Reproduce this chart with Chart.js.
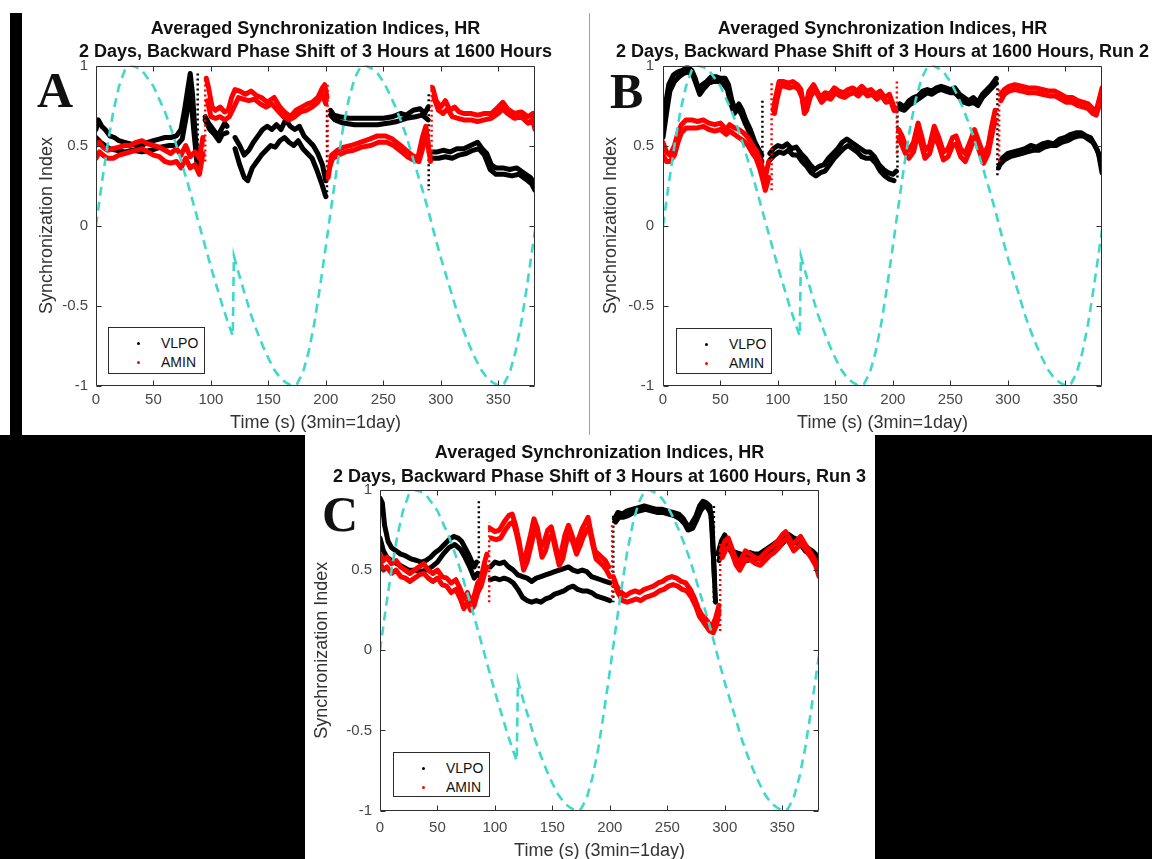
<!DOCTYPE html>
<html>
<head>
<meta charset="utf-8">
<script src="https://cdn.jsdelivr.net/npm/chart.js@4.4.1/dist/chart.umd.min.js"></script>
<style>
  html, body { margin: 0; padding: 0; }
  body { width: 1152px; height: 859px; background: #000; position: relative; overflow: hidden; font-family: 'Liberation Sans', Arial, sans-serif; }
  .sheet { position: absolute; }
  canvas { position: absolute; }
  .tag { position: absolute; font: bold 50px 'Liberation Serif', 'Times New Roman', serif; line-height: 1; color: #111; }
  .legend { position: absolute; background: #fff; border: 1px solid #2b2b2b; box-sizing: border-box; font-size: 14px; color: #111; }
  .legend .row { position: absolute; left: 0; right: 0; height: 18px; line-height: 18px; }
  .legend .dot { position: absolute; width: 3px; height: 3px; border-radius: 50%; top: 8px; }
  .legend .lbl { position: absolute; top: 0; }
</style>
</head>
<body>
<div class="sheet" style="left:0;top:0;width:1152px;height:435px;background:#fff"></div>
<div class="sheet" style="left:10px;top:13px;width:12px;height:422px;background:#000"></div>
<div class="sheet" style="left:589px;top:13px;width:1px;height:424px;background:#a0a0a0"></div>
<div class="sheet" style="left:305px;top:435px;width:570px;height:424px;background:#fff"></div>
<canvas id="chartA" width="568" height="435" style="left:22px;top:0"></canvas>
<canvas id="chartB" width="562" height="435" style="left:590px;top:0"></canvas>
<canvas id="chartC" width="570" height="435" style="left:305px;top:430px"></canvas>
<script>
// x = time (s), y = synchronization index; null marks a break between recordings
const seriesNames = ['VLPO', 'AMIN'];
const titleLine1 = 'Averaged Synchronization Indices, HR';
const titleLine2 = [
  '2 Days, Backward Phase Shift of 3 Hours at 1600 Hours',
  '2 Days, Backward Phase Shift of 3 Hours at 1600 Hours, Run 2',
  '2 Days, Backward Phase Shift of 3 Hours at 1600 Hours, Run 3'
];
const xTicks = [0, 50, 100, 150, 200, 250, 300, 350];
const yTicks = [-1, -0.5, 0, 0.5, 1];

// light cycle (cyan dashed), same in all three runs
const shiftT = [0, 5, 10, 15, 20, 25, 30, 35, 40, 45, 50, 55, 60, 65, 70, 75, 80, 85, 90, 95, 100, 105, 110, 115, 119,
  120, 125, 130, 135, 140, 145, 150, 155, 160, 165, 170, 172.5, 175, 180, 185, 190, 195, 200, 205, 210, 215, 220, 225,
  230, 232.5, 235, 240, 245, 250, 255, 260, 265, 270, 275, 280, 285, 290, 295, 300, 305, 310, 315, 320, 325, 330, 335,
  340, 345, 350, 352.5, 355, 360, 365, 370, 375, 380, 382];
const shiftV = [0, 0.26, 0.5, 0.71, 0.87, 0.97, 1, 0.99, 0.97, 0.92, 0.87, 0.79, 0.71, 0.61, 0.5, 0.38, 0.26, 0.13, 0, -0.13,
  -0.26, -0.38, -0.5, -0.61, -0.69, -0.19, -0.32, -0.44, -0.56, -0.66, -0.75, -0.83, -0.9, -0.95, -0.98, -1, -1, -0.99,
  -0.92, -0.79, -0.61, -0.38, -0.13, 0.13, 0.38, 0.61, 0.79, 0.92, 0.99, 1, 1, 0.98, 0.95, 0.9, 0.83, 0.75, 0.66, 0.56,
  0.44, 0.32, 0.2, 0.07, -0.07, -0.2, -0.32, -0.44, -0.56, -0.66, -0.75, -0.83, -0.9, -0.95, -0.98, -1, -1, -0.99, -0.92,
  -0.79, -0.61, -0.38, -0.13, -0.03];

// Run A
const aVlpo1 = [[0,0.6],[2,0.66],[5,0.62],[8,0.6],[12,0.56],[16,0.55],[20,0.53],[25,0.52],[30,0.51],[35,0.5],[40,0.5],[45,0.52],[50,0.53],[55,0.54],[60,0.55],[65,0.55],[70,0.56],[74,0.6],[77,0.72],[80,0.86],[82,0.95],[84,0.82],[86,0.6],[88,0.42],[91,null],
  [95,0.68],[98,0.64],[102,0.6],[106,0.56],[109,0.6],[112,0.64],[114,0.62],[118,null],
  [121,0.55],[125,0.5],[129,0.44],[133,0.47],[137,0.52],[141,0.56],[145,0.6],[149,0.62],[153,0.6],[157,0.63],[161,0.6],[165,0.66],[169,0.62],[173,0.6],[177,0.62],[181,0.56],[185,0.53],[189,0.5],[193,0.45],[197,0.38],[200,0.28],[202,null],
  [204,0.72],[207,0.69],[212,0.68],[220,0.67],[230,0.67],[240,0.67],[250,0.67],[258,0.68],[265,0.7],[270,0.69],[276,0.72],[282,0.73],[286,0.7],[289,0.74],[291,null],
  [293,0.46],[297,0.46],[302,0.47],[308,0.46],[314,0.48],[320,0.48],[326,0.5],[332,0.52],[336,0.48],[340,0.45],[344,0.38],[348,0.36],[354,0.36],[360,0.35],[366,0.36],[372,0.33],[378,0.3],[382,0.26]];
const aVlpo2 = [[0,0.55],[4,0.52],[8,0.5],[12,0.48],[18,0.47],[25,0.46],[32,0.47],[40,0.46],[48,0.47],[56,0.49],[64,0.5],[70,0.5],[75,0.54],[79,0.7],[82,0.85],[85,0.6],[88,0.38],[91,null],
  [95,0.66],[99,0.6],[103,0.57],[107,0.53],[110,0.57],[114,0.58],[118,null],
  [121,0.48],[125,0.38],[129,0.3],[132,0.28],[136,0.36],[140,0.4],[144,0.44],[148,0.47],[152,0.5],[156,0.49],[160,0.53],[164,0.55],[168,0.52],[172,0.5],[176,0.53],[180,0.48],[184,0.45],[188,0.42],[192,0.35],[196,0.27],[200,0.18],[202,null],
  [204,0.69],[208,0.66],[215,0.64],[225,0.63],[235,0.63],[245,0.63],[255,0.64],[262,0.65],[270,0.67],[278,0.68],[284,0.69],[289,0.66],[291,null],
  [293,0.42],[298,0.42],[304,0.43],[310,0.42],[316,0.44],[322,0.45],[328,0.47],[333,0.48],[338,0.44],[343,0.35],[348,0.32],[355,0.32],[362,0.31],[368,0.32],[374,0.29],[379,0.26],[382,0.22]];
const aAmin1 = [[0,0.5],[3,0.52],[6,0.49],[10,0.47],[15,0.48],[20,0.49],[25,0.5],[30,0.5],[35,0.52],[40,0.53],[45,0.51],[50,0.5],[55,0.49],[60,0.47],[65,0.45],[70,0.48],[74,0.44],[78,0.5],[82,0.43],[86,0.46],[90,0.42],[93,0.55],[94.5,null],
  [96,0.92],[98,0.86],[101,0.74],[104,0.72],[108,0.74],[112,0.71],[115,0.72],[118,0.8],[121,0.85],[125,0.84],[130,0.82],[135,0.84],[140,0.81],[144,0.8],[149,0.77],[155,0.8],[160,0.74],[164,0.71],[169,0.68],[174,0.72],[179,0.74],[184,0.76],[188,0.77],[193,0.8],[197,0.86],[199,0.88],[201,0.8],[201.5,null],
  [202,0.3],[205,0.44],[210,0.47],[216,0.49],[222,0.5],[230,0.52],[238,0.54],[245,0.56],[252,0.56],[258,0.54],[265,0.5],[270,0.47],[275,0.44],[280,0.42],[284,0.55],[287,0.62],[290,0.45],[291.5,null],
  [293,0.86],[296,0.78],[300,0.74],[304,0.78],[308,0.72],[312,0.74],[316,0.71],[320,0.7],[326,0.7],[332,0.69],[338,0.7],[344,0.7],[350,0.74],[354,0.77],[358,0.73],[364,0.7],[370,0.71],[376,0.68],[380,0.7],[382,0.64]];
const aAmin2 = [[0,0.42],[3,0.46],[6,0.44],[10,0.42],[15,0.42],[20,0.44],[25,0.45],[30,0.46],[35,0.47],[40,0.48],[45,0.46],[50,0.44],[55,0.43],[60,0.4],[65,0.39],[70,0.4],[74,0.36],[78,0.42],[82,0.36],[86,0.38],[90,0.32],[93,0.45],[95,null],
  [97,0.78],[100,0.68],[104,0.67],[108,0.68],[112,0.66],[116,0.68],[120,0.74],[124,0.8],[128,0.79],[133,0.78],[138,0.79],[143,0.76],[148,0.74],[153,0.76],[158,0.72],[163,0.68],[168,0.66],[173,0.68],[178,0.71],[183,0.72],[188,0.74],[193,0.77],[197,0.82],[200,0.76],[201.5,null],
  [203,0.36],[206,0.42],[211,0.44],[217,0.46],[224,0.47],[231,0.49],[239,0.5],[246,0.52],[253,0.52],[259,0.5],[266,0.46],[271,0.43],[276,0.41],[281,0.4],[285,0.5],[288,0.56],[291,0.4],[292.5,null],
  [294,0.8],[298,0.72],[302,0.7],[306,0.73],[310,0.68],[315,0.67],[320,0.66],[326,0.66],[332,0.65],[338,0.66],[344,0.67],[350,0.7],[354,0.73],[358,0.7],[364,0.67],[370,0.68],[376,0.64],[380,0.66],[382,0.6]];
// sparse dot columns where a recording jumps
const aVlpoJumps = [[88.5,0.95],[88.5,0.35],[89,null],[201,0.72],[201,0.18],[202,null],[289.5,0.82],[289.5,0.22]];
const aAminJumps = [[95,0.4],[95,0.93],[96,null],[201.5,0.88],[201.5,0.28],[202,null],[292,0.88],[292,0.38]];

// Run B
const bVlpo1 = [[0,0.62],[2,0.75],[5,0.88],[9,0.94],[13,0.96],[17,0.97],[21,0.99],[25,0.97],[28,0.92],[31,0.85],[34,0.88],[38,0.9],[42,0.93],[46,0.93],[50,0.92],[54,0.92],[57,0.88],[60,0.78],[63,0.72],[66,0.76],[69,0.72],[72,0.66],[76,0.6],[80,0.52],[83,0.48],[86,0.44],[89,null],
  [93,0.45],[96,0.48],[100,0.5],[104,0.49],[108,0.51],[112,0.48],[116,0.49],[120,0.45],[124,0.42],[128,0.38],[132,0.35],[136,0.37],[140,0.38],[144,0.42],[148,0.45],[152,0.48],[156,0.52],[160,0.54],[164,0.52],[168,0.5],[172,0.48],[176,0.46],[180,0.46],[184,0.43],[188,0.38],[192,0.35],[196,0.33],[200,0.32],[203,0.34],[204.5,null],
  [206,0.76],[210,0.74],[214,0.78],[218,0.8],[222,0.81],[226,0.84],[230,0.85],[234,0.84],[238,0.86],[242,0.87],[246,0.86],[250,0.85],[254,0.86],[258,0.82],[262,0.8],[266,0.78],[270,0.8],[274,0.77],[278,0.82],[282,0.85],[286,0.88],[290,0.92],[291,null],
  [292,0.36],[295,0.42],[300,0.45],[305,0.46],[310,0.47],[315,0.48],[320,0.5],[325,0.49],[330,0.51],[335,0.52],[340,0.51],[345,0.54],[350,0.55],[355,0.57],[360,0.58],[364,0.58],[368,0.56],[372,0.55],[376,0.5],[379,0.45],[382,0.33]];
const bVlpo2 = [[0,0.55],[3,0.7],[6,0.84],[10,0.9],[14,0.93],[18,0.95],[22,0.96],[26,0.94],[29,0.88],[32,0.82],[36,0.86],[40,0.89],[44,0.9],[48,0.9],[52,0.89],[56,0.85],[59,0.76],[62,0.7],[65,0.73],[68,0.7],[72,0.63],[76,0.57],[80,0.49],[83,0.45],[86,0.4],[89,null],
  [93,0.41],[97,0.44],[101,0.46],[105,0.45],[109,0.47],[113,0.44],[117,0.44],[121,0.4],[125,0.37],[129,0.33],[133,0.31],[137,0.33],[141,0.34],[145,0.38],[149,0.42],[153,0.45],[157,0.48],[161,0.5],[165,0.48],[169,0.46],[173,0.43],[177,0.42],[181,0.42],[185,0.39],[189,0.34],[193,0.31],[197,0.29],[201,0.28],[204,null],
  [206,0.73],[210,0.72],[214,0.75],[218,0.77],[222,0.79],[226,0.81],[230,0.83],[234,0.82],[238,0.84],[242,0.85],[246,0.84],[250,0.83],[254,0.83],[258,0.8],[262,0.77],[266,0.76],[270,0.77],[274,0.75],[278,0.8],[282,0.83],[286,0.86],[290,0.89],[291.5,null],
  [293,0.38],[297,0.41],[302,0.43],[307,0.44],[312,0.45],[317,0.46],[322,0.47],[327,0.47],[332,0.49],[337,0.5],[342,0.5],[347,0.52],[352,0.53],[357,0.55],[362,0.56],[366,0.56],[370,0.54],[374,0.52],[378,0.47],[382,0.38]];
const bAmin1 = [[0,0.52],[3,0.46],[6,0.44],[10,0.5],[13,0.58],[16,0.63],[20,0.66],[25,0.66],[30,0.65],[35,0.66],[40,0.64],[45,0.63],[50,0.64],[55,0.6],[58,0.63],[62,0.61],[66,0.6],[70,0.58],[74,0.55],[78,0.5],[81,0.47],[84,0.42],[87,0.35],[89,0.3],[92,0.4],[94,null],
  [96,0.72],[98,0.8],[101,0.9],[105,0.9],[109,0.89],[113,0.9],[117,0.88],[120,0.85],[122,0.76],[124,0.74],[127,0.84],[131,0.88],[134,0.84],[137,0.8],[141,0.83],[145,0.82],[149,0.86],[153,0.84],[157,0.83],[161,0.85],[165,0.86],[169,0.84],[173,0.87],[177,0.84],[181,0.85],[185,0.82],[189,0.84],[193,0.8],[197,0.82],[200,0.76],[202,0.72],[203.5,null],
  [205,0.6],[208,0.56],[211,0.5],[214,0.47],[218,0.52],[222,0.64],[225,0.56],[228,0.47],[232,0.5],[236,0.62],[240,0.55],[244,0.46],[248,0.48],[252,0.55],[255,0.56],[259,0.48],[263,0.45],[267,0.52],[271,0.6],[275,0.52],[279,0.44],[283,0.5],[286,0.62],[289,0.72],[291.5,null],
  [294,0.82],[297,0.85],[301,0.87],[306,0.88],[312,0.87],[318,0.86],[324,0.86],[330,0.85],[336,0.84],[341,0.84],[346,0.82],[351,0.8],[356,0.8],[361,0.78],[366,0.77],[370,0.76],[374,0.73],[377,0.72],[380,0.8],[382,0.86]];
const bAmin2 = [[0,0.44],[3,0.4],[6,0.4],[10,0.44],[13,0.52],[16,0.58],[20,0.61],[25,0.61],[30,0.61],[35,0.62],[40,0.6],[45,0.59],[50,0.6],[55,0.57],[58,0.59],[62,0.57],[66,0.55],[70,0.53],[74,0.5],[78,0.45],[81,0.42],[84,0.36],[87,0.28],[89,0.22],[92,0.3],[94.5,null],
  [97,0.7],[99,0.78],[102,0.87],[106,0.87],[110,0.86],[114,0.87],[118,0.85],[121,0.8],[123,0.7],[125,0.72],[128,0.8],[132,0.85],[135,0.81],[138,0.77],[142,0.8],[146,0.79],[150,0.83],[154,0.81],[158,0.8],[162,0.82],[166,0.83],[170,0.81],[174,0.84],[178,0.81],[182,0.82],[186,0.79],[190,0.81],[194,0.77],[198,0.78],[201,0.72],[203,null],
  [205,0.55],[208,0.5],[211,0.45],[214,0.42],[218,0.46],[222,0.58],[225,0.5],[228,0.42],[232,0.45],[236,0.56],[240,0.5],[244,0.41],[248,0.43],[252,0.5],[255,0.51],[259,0.43],[263,0.4],[267,0.47],[271,0.55],[275,0.47],[279,0.39],[283,0.45],[286,0.56],[289,0.66],[291.5,null],
  [294,0.78],[297,0.82],[301,0.84],[306,0.85],[312,0.84],[318,0.83],[324,0.83],[330,0.82],[336,0.81],[341,0.81],[346,0.79],[351,0.77],[356,0.77],[361,0.75],[366,0.74],[370,0.73],[374,0.7],[377,0.69],[380,0.76],[382,0.82]];
const bVlpoJumps = [[86.5,0.78],[86.5,0.25],[87,null],[204,0.75],[204,0.3],[205,null],[291,0.92],[291,0.3]];
const bAminJumps = [[94.5,0.22],[94.5,0.9],[95,null],[203.5,0.9],[203.5,0.45],[204,null],[292.5,0.85],[292.5,0.4]];

// Run C
const cVlpo1 = [[0,0.95],[2,0.92],[4,0.78],[7,0.68],[10,0.64],[14,0.62],[18,0.6],[22,0.59],[27,0.57],[32,0.56],[36,0.55],[40,0.56],[44,0.58],[48,0.61],[52,0.63],[56,0.66],[60,0.69],[64,0.71],[68,0.7],[71,0.68],[74,0.64],[77,0.6],[80,0.55],[82,0.52],[84,0.55],[90,null],
  [96,0.52],[100,0.55],[104,0.54],[108,0.55],[112,0.52],[116,0.5],[120,0.47],[124,0.46],[128,0.45],[132,0.43],[136,0.45],[140,0.46],[144,0.47],[148,0.48],[152,0.49],[156,0.5],[160,0.51],[164,0.52],[168,0.5],[172,0.49],[176,0.5],[180,0.49],[184,0.46],[188,0.45],[192,0.44],[196,0.43],[200,0.42],[202,null],
  [204,0.82],[207,0.86],[211,0.85],[215,0.87],[220,0.88],[225,0.89],[230,0.9],[235,0.89],[240,0.88],[245,0.88],[250,0.87],[255,0.86],[260,0.85],[264,0.82],[268,0.77],[271,0.79],[275,0.84],[278,0.9],[281,0.93],[284,0.92],[287,0.9],[289,0.78],[291,0.45],[292.5,null],
  [294,0.6],[297,0.68],[300,0.72],[303,0.67],[306,0.62],[310,0.61],[314,0.6],[318,0.58],[322,0.61],[326,0.6],[330,0.6],[334,0.62],[338,0.64],[342,0.66],[346,0.68],[350,0.7],[353,0.73],[356,0.72],[360,0.7],[364,0.69],[368,0.66],[372,0.64],[376,0.62],[379,0.6],[382,0.55]];
const cVlpo2 = [[0,0.7],[3,0.62],[6,0.58],[10,0.56],[15,0.54],[20,0.52],[25,0.5],[30,0.5],[35,0.49],[40,0.5],[45,0.52],[50,0.55],[55,0.6],[60,0.64],[65,0.66],[70,0.63],[74,0.58],[78,0.52],[82,0.45],[85,0.48],[90,null],
  [96,0.44],[100,0.45],[104,0.44],[108,0.45],[112,0.44],[116,0.42],[120,0.38],[124,0.33],[128,0.31],[132,0.3],[136,0.31],[140,0.3],[144,0.32],[148,0.33],[152,0.35],[156,0.36],[160,0.37],[164,0.39],[168,0.4],[172,0.38],[176,0.37],[180,0.37],[184,0.36],[188,0.34],[192,0.33],[196,0.32],[200,0.31],[202.5,null],
  [205,0.8],[208,0.83],[212,0.83],[216,0.84],[221,0.86],[226,0.87],[231,0.88],[236,0.87],[241,0.86],[246,0.86],[251,0.85],[256,0.84],[261,0.82],[265,0.79],[268,0.75],[272,0.76],[276,0.82],[279,0.87],[282,0.9],[285,0.89],[288,0.85],[290,0.6],[292,0.3],[293.5,null],
  [295,0.56],[298,0.64],[301,0.68],[304,0.63],[308,0.59],[312,0.58],[316,0.57],[320,0.56],[324,0.58],[328,0.57],[332,0.57],[336,0.59],[340,0.61],[344,0.63],[348,0.65],[352,0.68],[355,0.7],[358,0.69],[362,0.67],[366,0.66],[370,0.62],[374,0.6],[378,0.58],[382,0.52]];
const cAmin1 = [[0,0.6],[3,0.56],[6,0.58],[10,0.54],[14,0.56],[18,0.52],[22,0.5],[26,0.48],[30,0.5],[34,0.52],[38,0.54],[42,0.5],[46,0.48],[50,0.5],[54,0.46],[58,0.45],[62,0.42],[66,0.44],[70,0.38],[73,0.32],[76,0.36],[79,0.3],[82,0.34],[85,0.42],[88,0.45],[91,0.55],[93,0.6],[94.5,null],
  [96,0.76],[100,0.74],[104,0.75],[108,0.8],[112,0.84],[115,0.85],[118,0.78],[121,0.68],[124,0.55],[127,0.6],[131,0.72],[134,0.82],[137,0.76],[140,0.64],[143,0.68],[146,0.75],[149,0.77],[152,0.68],[155,0.58],[158,0.62],[161,0.72],[164,0.78],[167,0.72],[170,0.65],[173,0.7],[176,0.76],[179,0.8],[181,0.83],[184,0.72],[187,0.62],[190,0.6],[193,0.58],[196,0.56],[199,0.52],[201,null],
  [203,0.46],[206,0.4],[210,0.36],[214,0.34],[218,0.36],[222,0.37],[226,0.36],[230,0.38],[234,0.39],[238,0.4],[242,0.42],[246,0.43],[250,0.45],[254,0.46],[258,0.45],[262,0.43],[266,0.42],[270,0.38],[274,0.32],[277,0.26],[280,0.22],[283,0.2],[286,0.17],[289,0.15],[292,0.2],[295,0.28],[296,null],
  [297,0.62],[300,0.68],[303,0.7],[306,0.64],[309,0.58],[312,0.54],[315,0.58],[318,0.62],[322,0.6],[326,0.58],[330,0.57],[334,0.6],[338,0.63],[342,0.65],[346,0.68],[350,0.72],[353,0.74],[356,0.7],[359,0.66],[362,0.68],[366,0.71],[370,0.66],[374,0.62],[378,0.57],[382,0.5]];
const cAmin2 = [[0,0.55],[3,0.5],[6,0.52],[10,0.48],[14,0.5],[18,0.46],[22,0.45],[26,0.43],[30,0.45],[34,0.47],[38,0.48],[42,0.45],[46,0.43],[50,0.45],[54,0.41],[58,0.4],[62,0.36],[66,0.38],[70,0.32],[73,0.26],[76,0.3],[79,0.25],[82,0.28],[85,0.36],[88,0.4],[91,0.48],[93,0.52],[95,null],
  [97,0.7],[101,0.69],[105,0.7],[109,0.75],[113,0.79],[116,0.8],[119,0.72],[122,0.62],[125,0.5],[128,0.55],[132,0.67],[135,0.77],[138,0.7],[141,0.58],[144,0.62],[147,0.7],[150,0.72],[153,0.62],[156,0.53],[159,0.57],[162,0.67],[165,0.73],[168,0.67],[171,0.6],[174,0.65],[177,0.71],[180,0.75],[182,0.77],[185,0.66],[188,0.57],[191,0.55],[194,0.53],[197,0.5],[200,0.46],[202,null],
  [204,0.42],[207,0.36],[211,0.31],[215,0.3],[219,0.31],[223,0.32],[227,0.31],[231,0.33],[235,0.34],[239,0.35],[243,0.37],[247,0.38],[251,0.4],[255,0.41],[259,0.4],[263,0.38],[267,0.37],[271,0.33],[275,0.27],[278,0.21],[281,0.18],[284,0.15],[287,0.12],[290,0.11],[293,0.16],[295,0.24],[296.5,null],
  [298,0.58],[301,0.63],[304,0.65],[307,0.59],[310,0.53],[313,0.5],[316,0.54],[319,0.57],[323,0.56],[327,0.54],[331,0.53],[335,0.56],[339,0.59],[343,0.61],[347,0.64],[351,0.68],[354,0.7],[357,0.66],[360,0.62],[363,0.64],[367,0.67],[371,0.62],[375,0.58],[379,0.53],[382,0.46]];
const cVlpoJumps = [[86,0.93],[86,0.35],[87,null],[203,0.84],[203,0.3],[204,null],[290.5,0.9],[290.5,0.3]];
const cAminJumps = [[95,0.3],[95,0.8],[96,null],[202,0.78],[202,0.32],[203,null],[296,0.12],[296,0.68]];

const colors = { vlpo: '#000000', amin: '#ff0000', shift: '#3fd8cb' };

// layout of each panel, in canvas pixels
const panels = [
  { id: 'chartA', line2: titleLine2[0], vlpo: [aVlpo1, aVlpo2], amin: [aAmin1, aAmin2], jumps: [aVlpoJumps, aAminJumps],
    yWidth: 74, padTop: 65.5, padRight: 55, padBottom: 0, xHeight: 49.5, titleBase: [33.5, 56.5],
    yTitlePad: 14.7, yTickPad: 8, xTickPad: 5.5, xTitlePad: 1.5,
    legend: { left: 108, top: 327, width: 97, height: 47 }, tag: { text: 'A', left: 37, top: 65 } },
  { id: 'chartB', line2: titleLine2[1], vlpo: [bVlpo1, bVlpo2], amin: [bAmin1, bAmin2], jumps: [bVlpoJumps, bAminJumps],
    yWidth: 73, padTop: 65.5, padRight: 50, padBottom: 0, xHeight: 49.5, titleBase: [33.5, 56.5],
    yTitlePad: 10.2, yTickPad: 9, xTickPad: 5.5, xTitlePad: 1.5,
    legend: { left: 676, top: 328, width: 96, height: 46 }, tag: { text: 'B', left: 610, top: 66 } },
  { id: 'chartC', line2: titleLine2[2], vlpo: [cVlpo1, cVlpo2], amin: [cAmin1, cAmin2], jumps: [cVlpoJumps, cAminJumps],
    yWidth: 75, padTop: 60, padRight: 56, padBottom: 2.5, xHeight: 52, titleBase: [28.3, 51.7],
    yTitlePad: 6.2, yTickPad: 8, xTickPad: 8.5, xTitlePad: 0.7,
    legend: { left: 393, top: 752, width: 97, height: 45 }, tag: { text: 'C', left: 322, top: 489 } }
];

function toPoints(pairs) {
  return pairs.map(([x, y]) => ({ x, y }));
}

// MATLAB style box with inward ticks on all four sides
const frameTicks = {
  id: 'frameTicks',
  afterDatasetsDraw(chart) {
    const { ctx, chartArea: a, scales: { x, y } } = chart;
    const l = Math.round(a.left) + 0.5, r = Math.round(a.right) - 0.5;
    const t = Math.round(a.top) + 0.5, b = Math.round(a.bottom) - 0.5;
    ctx.save();
    ctx.strokeStyle = '#2e2e2e';
    ctx.lineWidth = 1;
    ctx.beginPath();
    ctx.rect(l, t, r - l, b - t);
    x.ticks.forEach(tk => {
      const px = Math.round(x.getPixelForValue(tk.value)) + 0.5;
      ctx.moveTo(px, b); ctx.lineTo(px, b - 5);
      ctx.moveTo(px, t); ctx.lineTo(px, t + 5);
    });
    y.ticks.forEach(tk => {
      const py = Math.round(y.getPixelForValue(tk.value)) + 0.5;
      ctx.moveTo(l, py); ctx.lineTo(l + 5, py);
      ctx.moveTo(r, py); ctx.lineTo(r - 5, py);
    });
    ctx.stroke();
    ctx.restore();
  }
};

// two-line title centred over the plot box, allowed to run wider than it
const boxTitle = {
  id: 'boxTitle',
  afterDraw(chart, args, opts) {
    const { ctx, chartArea: a } = chart;
    ctx.save();
    ctx.font = "bold 18px 'Liberation Sans', Arial, sans-serif";
    ctx.fillStyle = '#111';
    ctx.textAlign = 'center';
    ctx.textBaseline = 'alphabetic';
    const cx = (a.left + a.right) / 2;
    opts.lines.forEach((line, i) => ctx.fillText(line, cx, opts.baselines[i]));
    ctx.restore();
  }
};

function traceSet(list, name, color, order) {
  return list.map(pairs => ({
    label: name,
    data: toPoints(pairs),
    borderColor: color,
    backgroundColor: color,
    borderWidth: 5,
    borderJoinStyle: 'round',
    borderCapStyle: 'round',
    pointRadius: 0,
    spanGaps: false,
    order
  }));
}

function jumpSet(pairs, name, color, order) {
  return {
    label: name,
    data: toPoints(pairs),
    borderColor: color,
    borderWidth: 2.5,
    borderDash: [2, 3],
    pointRadius: 0,
    spanGaps: false,
    order
  };
}

function buildChart(p) {
  const shift = {
    label: 'light',
    data: shiftT.map((t, i) => ({ x: t, y: shiftV[i] })),
    borderColor: colors.shift,
    borderWidth: 2.6,
    borderDash: [9, 6],
    pointRadius: 0,
    order: 0
  };
  const datasets = [shift]
    .concat(traceSet(p.amin, seriesNames[1], colors.amin, 1))
    .concat([jumpSet(p.jumps[1], seriesNames[1], colors.amin, 1)])
    .concat(traceSet(p.vlpo, seriesNames[0], colors.vlpo, 2))
    .concat([jumpSet(p.jumps[0], seriesNames[0], colors.vlpo, 2)]);

  new Chart(document.getElementById(p.id), {
    type: 'line',
    data: { datasets },
    options: {
      responsive: false,
      animation: false,
      layout: { padding: { left: 0, right: p.padRight, top: p.padTop, bottom: p.padBottom } },
      plugins: {
        legend: { display: false },
        tooltip: { enabled: false },
        title: { display: false },
        boxTitle: { lines: [titleLine1, p.line2], baselines: p.titleBase }
      },
      scales: {
        x: {
          type: 'linear',
          min: 0,
          max: 382,
          afterFit: s => { s.height = p.xHeight; },
          afterBuildTicks: s => { s.ticks = xTicks.map(v => ({ value: v })); },
          grid: { display: false, drawTicks: false },
          border: { display: false },
          ticks: { color: '#474747', font: { size: 15 }, padding: p.xTickPad, maxRotation: 0, callback: v => String(v) },
          title: { display: true, text: 'Time (s) (3min=1day)', color: '#333', font: { size: 18 }, padding: { top: 0, bottom: p.xTitlePad } }
        },
        y: {
          min: -1,
          max: 1,
          afterFit: s => { s.width = p.yWidth; },
          afterBuildTicks: s => { s.ticks = yTicks.map(v => ({ value: v })); },
          grid: { display: false, drawTicks: false },
          border: { display: false },
          ticks: { color: '#474747', font: { size: 15 }, padding: p.yTickPad, callback: v => String(v) },
          title: { display: true, text: 'Synchronization Index', color: '#333', font: { size: 18 }, padding: { top: p.yTitlePad, bottom: 0 } }
        }
      }
    },
    plugins: [frameTicks, boxTitle]
  });
}

function addLegend(p) {
  const box = document.createElement('div');
  box.className = 'legend';
  Object.assign(box.style, {
    left: p.legend.left + 'px', top: p.legend.top + 'px',
    width: p.legend.width + 'px', height: p.legend.height + 'px'
  });
  [colors.vlpo, colors.amin].forEach((c, i) => {
    const row = document.createElement('div');
    row.className = 'row';
    row.style.top = (6 + i * 19) + 'px';
    row.innerHTML = `<span class="dot" style="left:28px;background:${c}"></span><span class="lbl" style="left:52px">${seriesNames[i]}</span>`;
    box.appendChild(row);
  });
  document.body.appendChild(box);

  const tag = document.createElement('div');
  tag.className = 'tag';
  tag.textContent = p.tag.text;
  tag.style.left = p.tag.left + 'px';
  tag.style.top = p.tag.top + 'px';
  document.body.appendChild(tag);
}

Chart.defaults.font.family = "'Liberation Sans', Arial, sans-serif";
panels.forEach(p => { buildChart(p); addLegend(p); });
</script>
</body>
</html>
